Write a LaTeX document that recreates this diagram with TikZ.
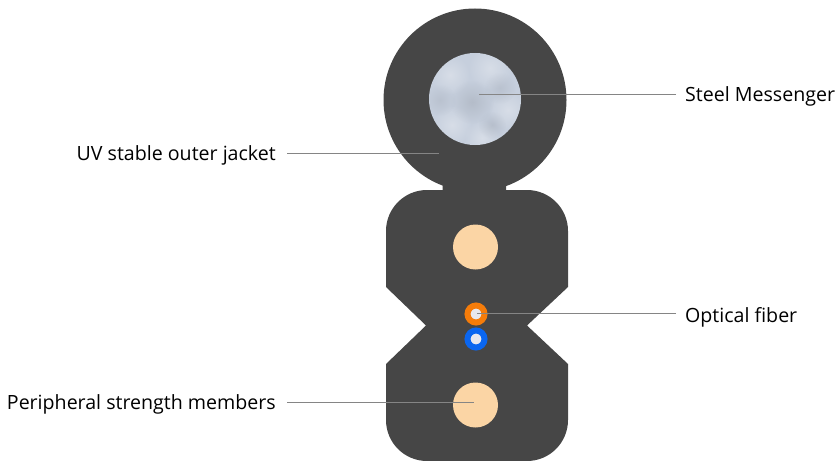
\documentclass[tikz,border=0pt]{standalone}
\usepackage{fontspec}
\setmainfont{Open Sans}
\usetikzlibrary{positioning,fadings}
\definecolor{jacketgrey}{HTML}{464646}
\definecolor{steelgrey}{HTML}{C6CFDD}
\definecolor{memberbuff}{HTML}{FBD5A5}
\definecolor{fiberorange}{HTML}{F57C0A}
\definecolor{fiberblue}{HTML}{0A66F0}
\definecolor{fibercore}{HTML}{E8E8EE}
\definecolor{leadergrey}{HTML}{858585}
\tikzfading[name=softspot,inner color=transparent!0,outer color=transparent!100]
\tikzset{
  disc/.style={circle,inner sep=0pt,minimum size=#1},
  member/.style={disc=45pt,fill=memberbuff},
  fiber/.style={disc=17pt,fill=fibercore,line width=6pt},
  leader/.style={draw=leadergrey,line width=0.9pt},
  callout/.style={font=\fontsize{19.6}{22}\selectfont,inner sep=0pt},
}
\begin{document}
\begin{tikzpicture}[x=1pt,y=-1pt]
\useasboundingbox (0,0) rectangle (837,460);
% jacket
\fill[jacketgrey] (475,100) circle[radius=91.5];
\fill[jacketgrey] (442.5,170) -- (506,170) -- (506,190) -- (527,190)
  arc[start angle=-90,end angle=0,radius=41] -- (568,287) -- (527,325.5) -- (568,364) -- (568,420)
  arc[start angle=0,end angle=90,radius=41] -- (427,461)
  arc[start angle=90,end angle=180,radius=41] -- (386,364) -- (426,325.5) -- (386,287) -- (386,231)
  arc[start angle=180,end angle=270,radius=41] -- (442.5,190) -- cycle;
% steel wire
\node[disc=92pt,fill=steelgrey] (steel) at (475,99) {};
\begin{scope}
\clip (475,99) circle[radius=46];
\foreach \px/\py/\pr/\pc in {450/75/20/white,490/68/22/white,508/110/20/white,452/125/20/white,482/138/18/white,
  472/102/22/steelgrey!70!black,500/88/16/steelgrey!80!black,440/100/16/steelgrey!80!black,492/125/14/steelgrey!75!black}
  \fill[\pc,opacity=0.3,path fading=softspot] (\px,\py) circle[radius=\pr];
\end{scope}
% members and fibers
\node[member] (upper) at (475.5,247) {};
\node[member] (lower) at (475.5,405) {};
\node[fiber,draw=fiberorange] (orange) at (476,314) {};
\node[fiber,draw=fiberblue] (blue) at (476,339) {};
% labels
\node[callout,anchor=base west] (steellabel) at (685,101.5) {Steel Messenger};
\node[callout,anchor=base east] (jacketlabel) at (276,160.7) {UV stable outer jacket};
\node[callout,anchor=base west] (fiberlabel) at (685,322.7) {Optical fiber};
\node[callout,anchor=base east] (memberlabel) at (276,409.3) {Peripheral strength members};
% leaders
\coordinate (steelend) at (479,94.5);
\coordinate (steelstart) at (676,94.5);
\coordinate (jacketstart) at (287,153.5);
\coordinate (jacketend) at (439,153.5);
\coordinate (fiberend) at (477,313.5);
\coordinate (fiberstart) at (676,313.5);
\coordinate (memberstart) at (287,402.5);
\coordinate (memberend) at (474,402.5);
\draw[leader] (steelstart) -- (steelend);
\draw[leader] (jacketstart) -- (jacketend);
\draw[leader] (fiberstart) -- (fiberend);
\draw[leader] (memberstart) -- (memberend);
\end{tikzpicture}
\end{document}
